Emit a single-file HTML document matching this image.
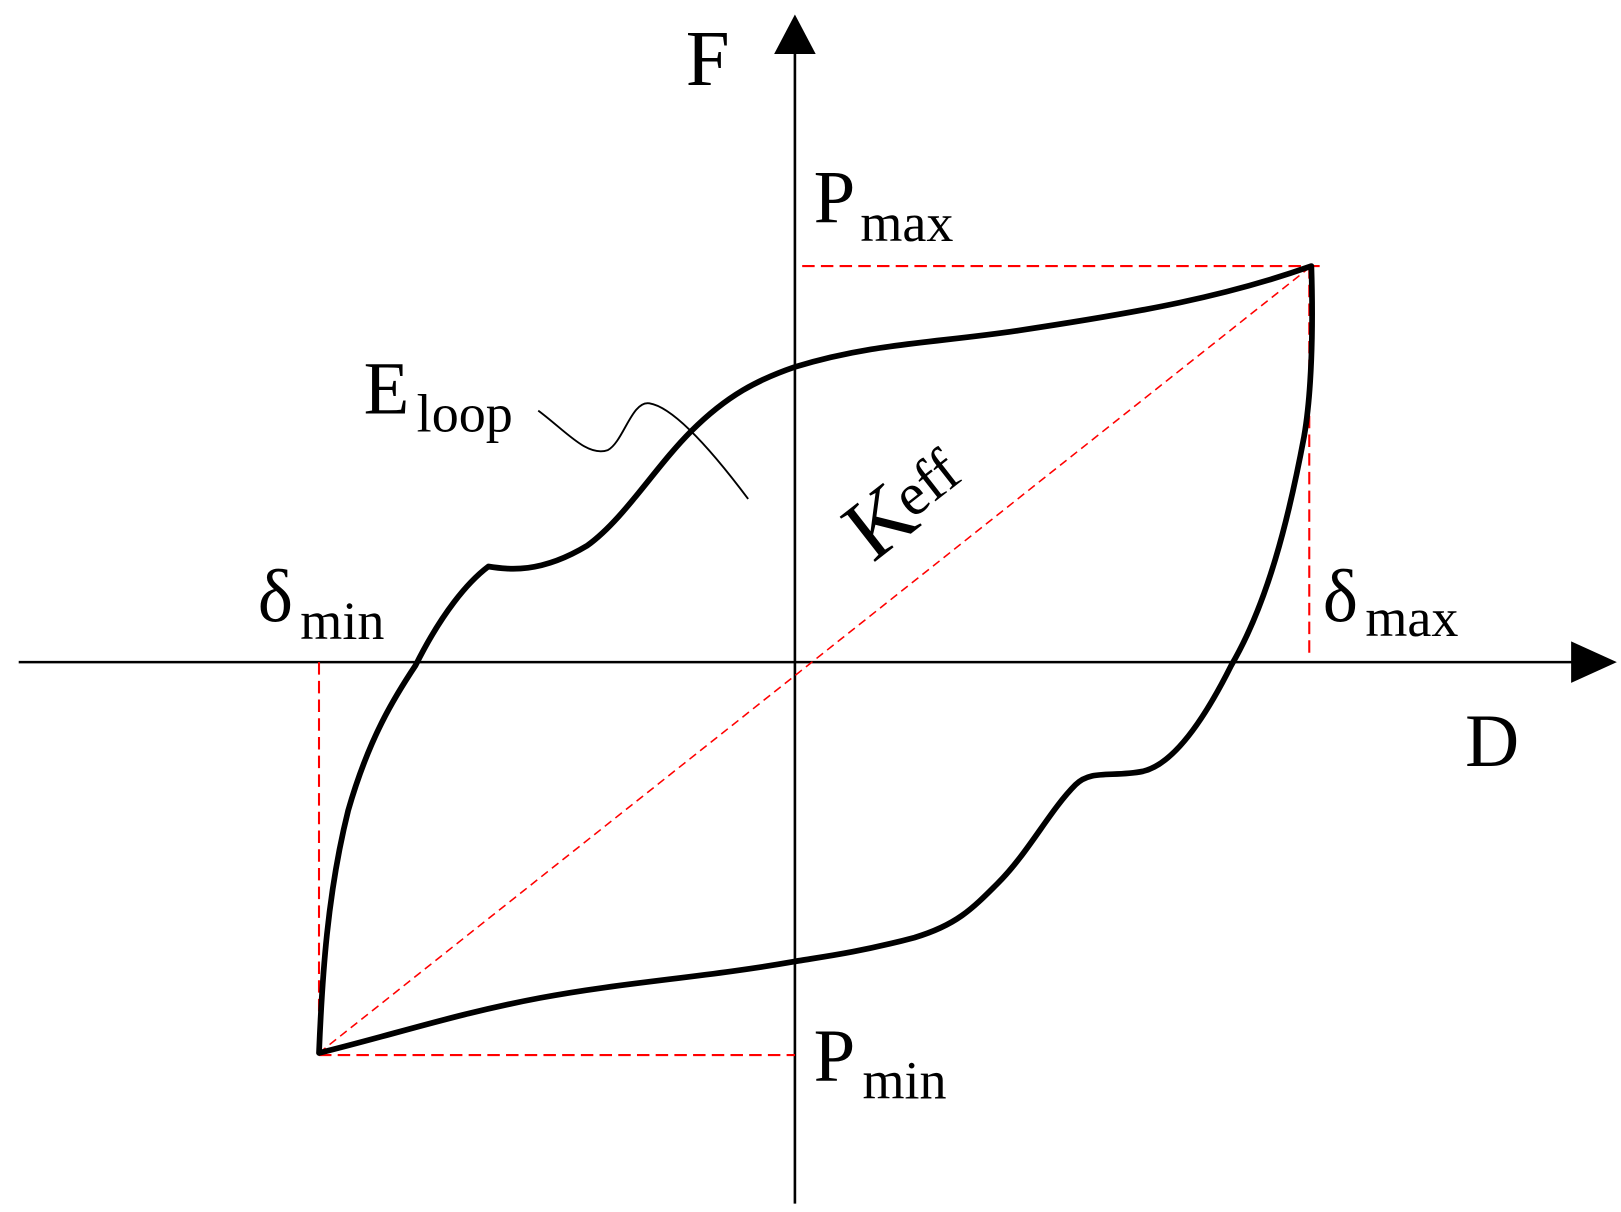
<!DOCTYPE html>
<html><head><meta charset="utf-8"><style>
html,body{margin:0;padding:0;background:#fff;}
svg{display:block;}
text{font-family:"Liberation Serif",serif;fill:#000;}
</style></head><body>
<svg width="1621" height="1212" viewBox="0 0 1560 1166" preserveAspectRatio="none">
<line x1="765" y1="40" x2="765" y2="1158" stroke="#000" stroke-width="2.5"/>
<polygon points="765,14 745,52 785,52" fill="#000"/>
<line x1="18" y1="637" x2="1520" y2="637" stroke="#000" stroke-width="2.5"/>
<polygon points="1556,637 1512,617 1512,657" fill="#000"/>
<g stroke="#f00" stroke-width="2" fill="none" stroke-dasharray="12,6">
<line x1="772" y1="256" x2="1270" y2="256"/>
<line x1="1260" y1="256" x2="1260" y2="630"/>
<line x1="307" y1="637" x2="307" y2="1013"/>
<line x1="307" y1="1015" x2="765" y2="1015"/>
</g>
<line x1="307" y1="1013" x2="1262" y2="256" stroke="#f00" stroke-width="1.5" stroke-dasharray="8,5"/>
<path d="M1262,256 C1264,320 1262,380 1255,420 C1240,500 1220,580 1185,640 C1160,690 1130,735 1100,742 C1070,748 1050,740 1035,755 C1010,780 990,820 960,850 C935,875 920,890 880,902 C820,918 780,922 765,925 C680,940 600,945 520,960 C440,975 380,995 307,1013 C310,940 315,860 335,780 C355,710 380,670 400,640 C425,590 450,560 470,545 C490,548 520,552 565,525 C600,500 630,450 665,415 C700,380 730,365 765,353 C840,330 900,330 980,318 C1100,300 1180,285 1262,256 Z" fill="none" stroke="#000" stroke-width="5.5" stroke-linejoin="round"/>
<path d="M518,395 C545,415 565,440 585,433 C600,425 608,385 625,388 C650,392 690,440 720,480" fill="none" stroke="#000" stroke-width="1.8"/>
<text x="660" y="82" font-size="76">F</text>
<text x="783" y="214" font-size="72">P</text>
<text x="828" y="232" font-size="52">max</text>
<text x="350" y="398" font-size="72">E</text>
<text x="401" y="415" font-size="52">loop</text>
<text x="248" y="598" font-size="72">δ</text>
<text x="289" y="615" font-size="52">min</text>
<text x="1273" y="598" font-size="72">δ</text>
<text x="1314" y="612" font-size="52">max</text>
<text x="1410" y="737" font-size="72">D</text>
<text x="783" y="1040" font-size="72">P</text>
<text x="830" y="1057" font-size="52">min</text>
<g transform="translate(840,542) rotate(-38)">
<text x="0" y="0" font-size="84">K</text>
<text x="56" y="-10" font-size="58">eff</text>
</g>
</svg>
</body></html>
